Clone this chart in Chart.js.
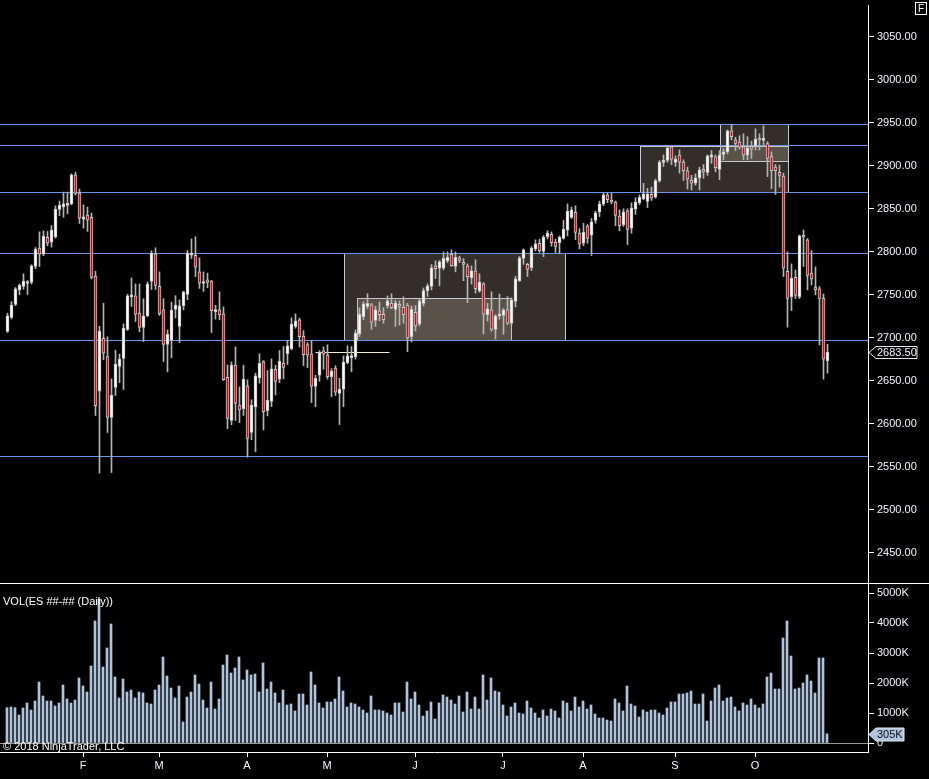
<!DOCTYPE html>
<html>
<head>
<meta charset="utf-8">
<title>ES ##-## Daily</title>
<script src="https://cdn.jsdelivr.net/npm/chart.js@4.4.1/dist/chart.umd.min.js"></script>
<style>
    html, body { margin: 0; padding: 0; background: #000; }
    body { width: 929px; height: 779px; position: relative; overflow: hidden; }
    #pricePane { position: absolute; left: 0; top: 0; }
    #volPane { position: absolute; left: 0; top: 584px; }
    #sep { position: absolute; left: 0; top: 583px; width: 929px; height: 1px; background: #fff; }
    .txt { position: absolute; color: #fff; font: 11px/11px 'Liberation Sans', Arial, sans-serif; white-space: nowrap; }
    #volTitle { left: 3px; top: 596px; }
    #copy { left: 3px; top: 741px; }
    #fbox { position: absolute; left: 915px; top: 2px; width: 10px; height: 11px; border: 1px solid #fff;
            color: #fff; font: 10px/11px 'Liberation Sans', Arial, sans-serif; text-align: center; }
</style>
</head>
<body>
<canvas id="pricePane" width="929" height="583"></canvas>
<div id="sep"></div>
<canvas id="volPane" width="929" height="195"></canvas>
<div class="txt" id="volTitle">VOL(ES ##-## (Daily))</div>
<div class="txt" id="copy">© 2018 NinjaTrader, LLC</div>
<div id="fbox">F</div>

<script>
// Daily ES bars (one entry per session)
const opens = [
    2707.5, 2723.75, 2738.75, 2755.75, 2759.75, 2763.25, 2764.5, 2783, 2804.25, 2797.25,
    2817, 2811.25, 2817.5, 2849.25, 2852.25, 2854, 2855.75, 2889.5, 2868.25, 2838,
    2842.75, 2840.25, 2771.75, 2638, 2699.5, 2678.25, 2607.5, 2642.25, 2666.75, 2676,
    2709.75, 2747.75, 2749, 2728.75, 2712, 2725.5, 2765.5, 2797.75, 2760, 2732.5,
    2692.25, 2697.25, 2733, 2713.25, 2737.5, 2750.5, 2796, 2796, 2776.75, 2763.25,
    2767.5, 2766, 2730.5, 2732.5, 2728, 2654.25, 2604, 2668.5, 2621.75, 2617.75,
    2644.25, 2590, 2620, 2653.5, 2672.5, 2615.5, 2626, 2663.5, 2652, 2670.5,
    2681.75, 2687.5, 2713.25, 2721, 2702, 2692.25, 2681.5, 2643.5, 2656.5, 2685,
    2680.25, 2655, 2664.75, 2635.5, 2640.25, 2671.25, 2677, 2678.25, 2704.5, 2724.75,
    2736.5, 2738.5, 2720.25, 2731.5, 2727.5, 2737.5, 2740.25, 2733, 2739, 2735.5,
    2738, 2701.5, 2729.75, 2716.25, 2740, 2755, 2759.75, 2783.75, 2781, 2781,
    2789.5, 2797.25, 2783, 2793, 2786, 2783.75, 2770, 2778, 2754.5, 2762.75,
    2727, 2732.5, 2709.75, 2725.5, 2726, 2732.5, 2717, 2742.25, 2766.5, 2792.5,
    2785.5, 2781.75, 2803.5, 2810, 2800.5, 2817.75, 2820.5, 2811.25, 2810.75, 2815.5,
    2825.25, 2840, 2846, 2821.75, 2810, 2830.25, 2819.5, 2836.5, 2846.5, 2855.5,
    2866.25, 2858.25, 2858, 2841.5, 2831.5, 2847.75, 2827.5, 2849.5, 2857.25, 2861.5,
    2858.5, 2867, 2863.5, 2882.5, 2904, 2906.25, 2922, 2904, 2912.5, 2904.5,
    2894.25, 2883.25, 2879.75, 2886, 2896, 2892.25, 2910, 2910.5, 2895.75, 2913.25,
    2916.25, 2940.75, 2930.25, 2927.5, 2922, 2912.5, 2922.5, 2923.25, 2930, 2929.5,
    2926, 2910.75, 2898.5, 2892.5, 2888, 2777.5, 2748, 2770.5, 2748, 2817.25,
    2814, 2775.25, 2759, 2757, 2746, 2673.5
];
const highs = [
    2728.75, 2742.25, 2758.5, 2762.75, 2774.5, 2766.75, 2785, 2805, 2823.25, 2824.5,
    2823.75, 2830.5, 2853.5, 2859, 2869.5, 2869.5, 2890.75, 2892.75, 2873, 2854.75,
    2852, 2845, 2777.5, 2713.5, 2740.25, 2701.25, 2652.25, 2685.75, 2681, 2716.25,
    2750.75, 2769.75, 2762.75, 2762.75, 2745.5, 2765, 2801.25, 2804.75, 2776.75, 2745.5,
    2709.25, 2741.5, 2749, 2744.25, 2754.25, 2801.5, 2815, 2817.5, 2793, 2776.75,
    2775.25, 2766.75, 2738, 2753.5, 2736, 2668.5, 2672, 2689.5, 2643, 2668.25,
    2651.25, 2628, 2659, 2681.5, 2673.5, 2662, 2675.5, 2668.25, 2685.25, 2690,
    2697, 2723.25, 2728, 2723, 2708.5, 2694.5, 2697.25, 2656.5, 2685.25, 2689.5,
    2692, 2664.25, 2667.75, 2653, 2679, 2690.75, 2690, 2709.25, 2735, 2742.25,
    2751.25, 2740.25, 2736.75, 2741.75, 2735.25, 2748.75, 2751.25, 2743.75, 2743, 2747.75,
    2740.25, 2737.25, 2737.5, 2745.25, 2758, 2762.75, 2785.25, 2789.5, 2790, 2800,
    2800, 2802.25, 2800, 2795, 2792.25, 2786, 2783.75, 2790.75, 2774.5, 2764.25,
    2740.25, 2753.5, 2727, 2751, 2734, 2748, 2746.5, 2771.75, 2794.5, 2803.5,
    2786.75, 2806.25, 2814, 2814.75, 2819, 2824.5, 2823.25, 2814.75, 2818.5, 2836.75,
    2855.75, 2852, 2853.5, 2827, 2833.25, 2831.75, 2838.75, 2847.25, 2859, 2868.25,
    2868.25, 2868.25, 2859.25, 2848.75, 2850, 2850, 2857, 2862.75, 2866.25, 2879.75,
    2874, 2875.25, 2884.5, 2906.25, 2912.75, 2923.25, 2923.25, 2911.5, 2918.5, 2907,
    2898.5, 2889, 2890.75, 2898.5, 2901.5, 2912.75, 2917.75, 2912.75, 2917.75, 2920,
    2941.75, 2948, 2933.25, 2935, 2937.25, 2934, 2928.75, 2943, 2937.25, 2946.5,
    2928, 2916.25, 2901.5, 2900.75, 2891.5, 2800, 2786, 2779, 2819.5, 2825.5,
    2815.5, 2801.5, 2782.5, 2759.75, 2751, 2692.5
];
const lows = [
    2706.25, 2722, 2737.5, 2750, 2756.5, 2750.5, 2762.5, 2780.5, 2783, 2795.5,
    2807, 2805.5, 2816, 2842, 2840.25, 2844.25, 2854.75, 2866, 2833, 2827.5,
    2823.75, 2768.5, 2609.75, 2542.75, 2674.5, 2590, 2543.5, 2633, 2648, 2640,
    2708.5, 2736.5, 2719, 2707, 2695.75, 2724.5, 2756.25, 2756.25, 2726, 2672.5,
    2660.5, 2676.75, 2723.25, 2694.5, 2732.5, 2744.25, 2792.25, 2771.25, 2757.5, 2754,
    2758.25, 2706.25, 2721.75, 2721, 2650.5, 2594.5, 2599, 2604, 2601.5, 2609.75,
    2561.25, 2581.5, 2567.75, 2647.25, 2593, 2609.25, 2620, 2633.75, 2648, 2652.25,
    2669, 2686, 2711.25, 2689.5, 2667.75, 2665.5, 2624.75, 2620, 2649.5, 2663.5,
    2652, 2631.75, 2633, 2599.25, 2620, 2669.75, 2660.75, 2675.25, 2701.5, 2721,
    2733.75, 2710, 2713.25, 2719.75, 2717, 2734.5, 2733.75, 2713.25, 2714.75, 2717,
    2684, 2695.25, 2708, 2714, 2737.25, 2748, 2755.75, 2769, 2760.5, 2779,
    2787.5, 2783, 2776.75, 2787.5, 2766.5, 2741, 2762.5, 2752, 2753, 2704.5,
    2719.5, 2707.75, 2698.75, 2721.75, 2704, 2715.5, 2715, 2736, 2765.5, 2785.5,
    2771.25, 2778.25, 2801, 2799.25, 2794.5, 2815, 2806.5, 2799.25, 2797.75, 2814.75,
    2818.5, 2838.75, 2814.25, 2803.5, 2807, 2810, 2795.75, 2833.25, 2841, 2853.5,
    2857.25, 2855.75, 2830.5, 2824.5, 2829.5, 2808.5, 2821.75, 2843.5, 2855, 2860.5,
    2851.5, 2859.75, 2862.5, 2881, 2899.25, 2904, 2901.25, 2899.25, 2891.5, 2883,
    2873, 2872, 2877.5, 2872, 2885.5, 2889, 2903, 2893, 2883.75, 2907,
    2914, 2930.25, 2917.75, 2919.5, 2907, 2907, 2908.5, 2918.5, 2918.5, 2924,
    2887.5, 2873.5, 2866.75, 2875.25, 2771.25, 2712.5, 2731.75, 2745.75, 2745.75, 2783,
    2755.75, 2761.5, 2750, 2691.75, 2652, 2659
];
const closes = [
    2725.5, 2738, 2757, 2761.25, 2766, 2765, 2783.75, 2803, 2797.25, 2818.25,
    2810, 2825.25, 2849.5, 2854.25, 2855.75, 2855.75, 2889.5, 2868, 2839.25, 2840.75,
    2836.75, 2770.25, 2621.25, 2707.75, 2682.25, 2607.5, 2633.5, 2669.5, 2675.25, 2711.25,
    2748.75, 2750, 2727.5, 2712, 2725.25, 2762.5, 2798.5, 2761, 2728.25, 2692.25,
    2704.25, 2732.25, 2738, 2737.25, 2753.5, 2798.5, 2798.5, 2782.25, 2763.5, 2765.5,
    2764.5, 2731.75, 2732.5, 2726.75, 2651.5, 2606.25, 2668.5, 2623.75, 2616.25, 2652,
    2583, 2621.75, 2655.75, 2670.5, 2614.25, 2627.5, 2664, 2649.25, 2673, 2665.5,
    2690.75, 2716, 2719.75, 2701.5, 2680.5, 2679.75, 2643.75, 2653, 2683.25, 2681,
    2655, 2661.25, 2636.75, 2640.25, 2671.75, 2679, 2679.5, 2705.5, 2727.5, 2739.5,
    2740.25, 2718.25, 2732.5, 2727, 2721.25, 2743, 2735.25, 2740.75, 2736.5, 2727,
    2700, 2733.25, 2714, 2743, 2755, 2760.5, 2781.5, 2780.5, 2788.5, 2792.5,
    2793.75, 2784, 2793.75, 2790, 2785.5, 2771.25, 2778, 2757.25, 2764.75, 2727.5,
    2733.75, 2709.75, 2725.5, 2726, 2732.5, 2717, 2744.25, 2768.5, 2793, 2802.25,
    2779.5, 2804.25, 2809.25, 2801.5, 2817, 2821.75, 2810.75, 2806.25, 2817, 2826.25,
    2847.25, 2848.75, 2822.5, 2809, 2822.75, 2815.5, 2835, 2845.25, 2855.75, 2866.25,
    2860.75, 2858, 2842.5, 2830.5, 2846.5, 2826, 2851, 2858, 2863.5, 2867.5,
    2867.5, 2862.5, 2883, 2904.5, 2906.25, 2921, 2907.75, 2907.75, 2904.25, 2894.25,
    2884.5, 2879.75, 2886, 2895.25, 2893, 2911.5, 2912.75, 2897.75, 2912.5, 2916.25,
    2940.75, 2934, 2926, 2921.75, 2912.5, 2921, 2919.5, 2931, 2929.75, 2932.25,
    2908.5, 2894.5, 2894.5, 2889, 2781, 2746, 2769.5, 2749.25, 2818.5, 2817,
    2772.5, 2768.25, 2755.75, 2745.75, 2675.25, 2683.5
];
// volume in thousands of contracts
const volumes = [
    1178, 1200, 1178, 933, 1167, 1333, 1100, 1400, 2033, 1567,
    1400, 1400, 1233, 1333, 1933, 1467, 1333, 1433, 2167, 1900,
    1700, 2567, 4067, 4800, 2533, 3167, 3967, 2200, 1500, 2133,
    1700, 1767, 1500, 1700, 1667, 1333, 1300, 1767, 1933, 2867,
    2233, 1833, 1500, 1900, 700, 1533, 1700, 2267, 1967, 1433,
    1167, 2033, 1133, 1467, 2600, 2933, 2333, 2500, 2867, 2100,
    2433, 2267, 2300, 1700, 2667, 1800, 2033, 1667, 1333, 1767,
    1267, 1300, 1067, 1633, 1633, 1267, 2367, 1933, 1333, 1167,
    1367, 1367, 1467, 2200, 1733, 1200, 1333, 1300, 1200, 1100,
    1000, 1567, 1100, 1100, 1067, 1000, 933, 1333, 1333, 1033,
    2033, 1467, 1700, 1267, 900, 1067, 1367, 800, 1333, 1600,
    1533, 1433, 1300, 1567, 1033, 1700, 1133, 1533, 1133, 2267,
    1433, 2167, 1733, 1700, 1267, 900, 1200, 1333, 1000, 967,
    1400, 1167, 1000, 833, 1100, 900, 1133, 1067, 833, 1400,
    1333, 1067, 1533, 1200, 1400, 1133, 1267, 967, 833, 833,
    767, 733, 1467, 1333, 1067, 1900, 1300, 1233, 867, 1100,
    1033, 1100, 1100, 1000, 933, 1167, 1367, 1367, 1633, 1633,
    1667, 1733, 1300, 1300, 1633, 733, 1400, 1833, 1933, 1400,
    1500, 1533, 1200, 1067, 1333, 1267, 1467, 1267, 1167, 1300,
    2200, 2333, 1800, 1800, 3500, 4067, 2900, 1800, 1833, 2000,
    2267, 2067, 1667, 2833, 2833, 305
];

// axis ticks
const priceTicks = [2450, 2500, 2550, 2600, 2650, 2700, 2750, 2800, 2850, 2900, 2950, 3000, 3050];
const volTicks = [0, 1000, 2000, 3000, 4000, 5000];
const monthTickBars = [19, 38, 60, 80, 102, 124, 144, 167, 187];
const monthLabels = ['F', 'M', 'A', 'M', 'J', 'J', 'A', 'S', 'O'];

// drawing objects on the price panel
const levelLines = [2948.5, 2924, 2869.5, 2798.5, 2697.5, 2563];
const zoneFrom = [84, 87.25, 158, 178];
const zoneTo = [139.25, 125.75, 195, 195];
const zoneHigh = [2798.5, 2746.5, 2923.5, 2948.5];
const zoneLow = [2697.5, 2697.5, 2869.5, 2906];
const markFrom = 77, markTo = 95.5, markPrice = 2683.5;

const COLORS = {
    axis: '#ffffff',
    label: '#f2f5ff',
    wick: '#b4b4b4',
    bodyEdge: '#c8c8c8',
    up: '#ffffff',
    down: '#ee0000',
    level: '#6495ed',
    zoneFill: 'rgba(217, 196, 174, 0.235)',
    zoneEdge: '#c4c8d0',
    mark: '#f5ebd0',
    volume: '#b0c4de',
    zero: '#9a9a9a'
};
const FONT = { family: "'Liberation Sans', Arial, sans-serif", size: 11 };

Chart.defaults.font.family = FONT.family;

const barIdx = opens.map((_, i) => i);
const last = opens.length - 1;

// fixed-width right axis so both panes line up
function rightAxis(extra) {
    return Object.assign({
        position: 'right',
        afterFit: s => { s.width = 61; s.paddingTop = 0; s.paddingBottom = 0; },
        grid: { drawOnChartArea: false, tickLength: 6, tickColor: COLORS.axis, tickWidth: 1 },
        border: { color: COLORS.axis, width: 1 },
        ticks: { color: COLORS.label, font: FONT, padding: 3 }
    }, extra);
}

/**
 * Price pane drawings: rectangles, horizontal levels, marker segment, last price tag
 */
const priceDrawings = {
    id: 'priceDrawings',
    beforeDatasetsDraw(chart) {
        const { ctx, chartArea: a, scales: { x, y } } = chart;
        ctx.save();
        zoneFrom.forEach((from, k) => {
            const x0 = Math.round(x.getPixelForValue(from)) + 0.5;
            const x1 = Math.round(x.getPixelForValue(zoneTo[k])) + 0.5;
            const y0 = Math.round(y.getPixelForValue(zoneHigh[k])) + 0.5;
            const y1 = Math.round(y.getPixelForValue(zoneLow[k])) + 0.5;
            ctx.fillStyle = COLORS.zoneFill;
            ctx.fillRect(x0, y0, x1 - x0, y1 - y0);
            ctx.strokeStyle = COLORS.zoneEdge;
            ctx.lineWidth = 1;
            ctx.strokeRect(x0, y0, x1 - x0, y1 - y0);
        });
        ctx.strokeStyle = COLORS.level;
        levelLines.forEach(p => {
            const yy = Math.round(y.getPixelForValue(p)) + 0.5;
            ctx.beginPath();
            ctx.moveTo(a.left, yy);
            ctx.lineTo(a.right, yy);
            ctx.stroke();
        });
        const my = Math.round(y.getPixelForValue(markPrice)) + 0.5;
        ctx.strokeStyle = COLORS.mark;
        ctx.beginPath();
        ctx.moveTo(x.getPixelForValue(markFrom), my);
        ctx.lineTo(x.getPixelForValue(markTo), my);
        ctx.stroke();
        ctx.restore();
    },
    afterDraw(chart) {
        const { ctx, chartArea: a, scales: { y } } = chart;
        const yy = Math.round(y.getPixelForValue(closes[last])) + 0.5;
        const tip = a.right + 1;
        ctx.save();
        ctx.beginPath();
        ctx.moveTo(tip, yy);
        ctx.lineTo(tip + 7, yy - 6);
        ctx.lineTo(tip + 48, yy - 6);
        ctx.lineTo(tip + 48, yy + 6);
        ctx.lineTo(tip + 7, yy + 6);
        ctx.closePath();
        ctx.fillStyle = '#000';
        ctx.fill();
        ctx.strokeStyle = '#e8e8e8';
        ctx.stroke();
        ctx.fillStyle = COLORS.label;
        ctx.font = FONT.size + 'px ' + FONT.family;
        ctx.textBaseline = 'middle';
        ctx.fillText(closes[last].toFixed(2), tip + 8, yy + 0.5);
        ctx.restore();
    }
};

new Chart(document.getElementById('pricePane'), {
    type: 'bar',
    data: {
        datasets: [
            {
                label: 'range',
                data: barIdx.map(i => ({ x: i, y: [lows[i], highs[i]] })),
                backgroundColor: COLORS.wick,
                barThickness: 1,
                grouped: false,
                order: 2
            },
            {
                label: 'body',
                data: barIdx.map(i => ({ x: i, y: [opens[i], closes[i]] })),
                backgroundColor: c => closes[c.dataIndex] >= opens[c.dataIndex] ? COLORS.up : COLORS.down,
                borderColor: COLORS.bodyEdge,
                borderWidth: 1,
                borderSkipped: false,
                barThickness: 3,
                minBarLength: 2,
                grouped: false,
                order: 1
            }
        ]
    },
    options: {
        responsive: false,
        animation: false,
        devicePixelRatio: 1,
        layout: { padding: { top: 5, left: 0, right: 0, bottom: 0 } },
        plugins: { legend: { display: false }, tooltip: { enabled: false } },
        scales: {
            x: { type: 'linear', display: false, offset: false, min: -1.875, max: 215.125 },
            y: rightAxis({
                min: 2415,
                max: 3087,
                afterBuildTicks: s => { s.ticks = priceTicks.map(v => ({ value: v })); },
                ticks: { color: COLORS.label, font: FONT, padding: 3, callback: v => Number(v).toFixed(2) }
            })
        }
    },
    plugins: [priceDrawings]
});

/**
 * Volume pane: zero line and last volume tag
 */
const volumeDrawings = {
    id: 'volumeDrawings',
    beforeDatasetsDraw(chart) {
        const { ctx, chartArea: a, scales: { y } } = chart;
        const yy = Math.round(y.getPixelForValue(0)) + 0.5;
        ctx.save();
        ctx.strokeStyle = COLORS.zero;
        ctx.beginPath();
        ctx.moveTo(a.left, yy);
        ctx.lineTo(a.right, yy);
        ctx.stroke();
        ctx.restore();
    },
    afterDraw(chart) {
        const { ctx, chartArea: a, scales: { y } } = chart;
        const yy = Math.round(y.getPixelForValue(volumes[last])) + 0.5;
        const tip = a.right + 1;
        ctx.save();
        ctx.beginPath();
        ctx.moveTo(tip, yy);
        ctx.lineTo(tip + 7, yy - 6.5);
        ctx.lineTo(tip + 35, yy - 6.5);
        ctx.lineTo(tip + 35, yy + 6.5);
        ctx.lineTo(tip + 7, yy + 6.5);
        ctx.closePath();
        ctx.fillStyle = COLORS.volume;
        ctx.fill();
        ctx.strokeStyle = '#dfe7f2';
        ctx.stroke();
        ctx.fillStyle = '#0a0f1a';
        ctx.font = FONT.size + 'px ' + FONT.family;
        ctx.textBaseline = 'middle';
        ctx.fillText(volumes[last] + 'K', tip + 8, yy + 0.5);
        ctx.restore();
    }
};

new Chart(document.getElementById('volPane'), {
    type: 'bar',
    data: {
        datasets: [{
            label: 'VOL',
            data: barIdx.map(i => ({ x: i, y: volumes[i] })),
            backgroundColor: COLORS.volume,
            barThickness: 2
        }]
    },
    options: {
        responsive: false,
        animation: false,
        devicePixelRatio: 1,
        layout: { padding: 0 },
        plugins: { legend: { display: false }, tooltip: { enabled: false } },
        scales: {
            x: {
                type: 'linear',
                offset: false,
                min: -1.75,
                max: 215.25,
                afterFit: s => { s.height = 27; s.paddingLeft = 0; s.paddingRight = 0; },
                afterBuildTicks: s => { s.ticks = monthTickBars.map(v => ({ value: v })); },
                grid: { drawOnChartArea: false, offset: false, tickLength: 5, tickColor: COLORS.axis },
                border: { color: COLORS.axis, width: 1 },
                ticks: {
                    color: COLORS.label,
                    font: FONT,
                    padding: 2,
                    autoSkip: false,
                    maxRotation: 0,
                    callback: (v, i) => monthLabels[i]
                }
            },
            y: rightAxis({
                min: -300,
                max: 5300,
                afterBuildTicks: s => { s.ticks = volTicks.map(v => ({ value: v })); },
                ticks: { color: COLORS.label, font: FONT, padding: 3, callback: v => v === 0 ? '0' : v + 'K' }
            })
        }
    },
    plugins: [volumeDrawings]
});
</script>
</body>
</html>
